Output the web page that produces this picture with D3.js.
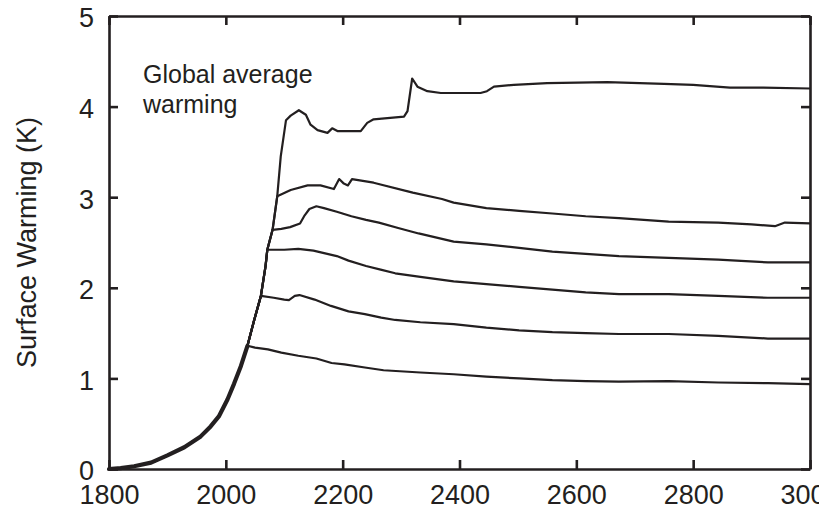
<!DOCTYPE html>
<html>
<head>
<meta charset="utf-8">
<script src="https://cdn.jsdelivr.net/npm/d3@7"></script>
<style>
  body { margin: 0; background: #fff; }
  svg { display: block; font-family: "Liberation Sans", Arial, sans-serif; }
</style>
</head>
<body>
<div id="chart"></div>
<script>
// shared historical ramp (all runs follow it until they branch off)
const rampYears = [1800, 1820, 1843, 1872, 1900, 1929, 1957, 1974, 1988, 2003, 2014, 2026, 2037, 2048, 2060, 2068, 2071, 2080, 2088, 2094, 2103];
const rampValues = [0, 0.01, 0.03, 0.07, 0.15, 0.24, 0.36, 0.47, 0.58, 0.77, 0.94, 1.14, 1.36, 1.63, 1.91, 2.24, 2.42, 2.64, 3.01, 3.45, 3.85];

// branches, from lowest to highest
const run1Years = [2037, 2050, 2072, 2095, 2124, 2155, 2181, 2203, 2238, 2270, 2333, 2390, 2446, 2502, 2559, 2616, 2673, 2758, 2843, 2928, 3000];
const run1Values = [1.36, 1.34, 1.32, 1.285, 1.25, 1.22, 1.17, 1.155, 1.12, 1.09, 1.065, 1.046, 1.02, 1.0, 0.98, 0.97, 0.965, 0.97, 0.955, 0.947, 0.936];

const run2Years = [2060, 2082, 2100, 2108, 2118, 2126, 2152, 2180, 2210, 2238, 2266, 2290, 2333, 2390, 2446, 2502, 2559, 2616, 2673, 2758, 2843, 2928, 3000];
const run2Values = [1.91, 1.89, 1.87, 1.865, 1.91, 1.92, 1.87, 1.8, 1.74, 1.71, 1.67, 1.645, 1.62, 1.6, 1.56, 1.53, 1.51, 1.5, 1.49, 1.49, 1.47, 1.44, 1.44];

const run3Years = [2071, 2100, 2124, 2150, 2170, 2190, 2210, 2240, 2265, 2290, 2333, 2390, 2446, 2502, 2559, 2616, 2673, 2758, 2843, 2928, 3000];
const run3Values = [2.42, 2.42, 2.43, 2.41, 2.38, 2.35, 2.3, 2.24, 2.2, 2.16, 2.12, 2.07, 2.04, 2.01, 1.98, 1.95, 1.93, 1.93, 1.91, 1.89, 1.89];

const run4Years = [2080, 2095, 2110, 2127, 2135, 2143, 2155, 2168, 2190, 2215, 2240, 2262, 2295, 2330, 2390, 2446, 2502, 2559, 2616, 2673, 2758, 2843, 2928, 3000];
const run4Values = [2.64, 2.65, 2.67, 2.71, 2.8, 2.87, 2.9, 2.88, 2.84, 2.79, 2.75, 2.72, 2.66, 2.6, 2.51, 2.48, 2.44, 2.4, 2.375, 2.35, 2.33, 2.31, 2.28, 2.28];

const run5Years = [2088, 2111, 2140, 2162, 2185, 2194, 2202, 2209, 2216, 2253, 2320, 2370, 2390, 2446, 2502, 2559, 2616, 2673, 2758, 2843, 2900, 2940, 2957, 3000];
const run5Values = [3.01, 3.08, 3.13, 3.13, 3.09, 3.2, 3.15, 3.13, 3.2, 3.16, 3.05, 2.98, 2.94, 2.88, 2.85, 2.82, 2.79, 2.77, 2.73, 2.72, 2.7, 2.68, 2.72, 2.71];

const run6Years = [2103, 2111, 2125, 2137, 2145, 2157, 2174, 2182, 2191, 2231, 2242, 2253, 2305, 2311, 2319, 2328, 2345, 2368, 2436, 2447, 2459, 2493, 2550, 2653, 2750, 2800, 2863, 2920, 3000];
const run6Values = [3.85, 3.9, 3.96, 3.91, 3.8, 3.74, 3.71, 3.76, 3.73, 3.73, 3.82, 3.86, 3.89, 3.95, 4.31, 4.22, 4.17, 4.15, 4.15, 4.17, 4.22, 4.24, 4.26, 4.27, 4.25, 4.24, 4.21, 4.21, 4.2];

const xTicks = [1800, 2000, 2200, 2400, 2600, 2800, 3000];
const yTicks = [0, 1, 2, 3, 4, 5];

const width = 819, height = 510;
const margin = { top: 16, right: 9, bottom: 41, left: 109 };
const ink = '#231f20';

const svg = d3.select('#chart').append('svg')
  .attr('width', width)
  .attr('height', height);

const x = d3.scaleLinear().domain([1800, 3000]).range([margin.left, width - margin.right]);
const y = d3.scaleLinear().domain([0, 5]).range([height - margin.bottom, margin.top]);

function zipPoints(years, values) {
  return years.map((yr, i) => [yr, values[i]]);
}

// each run = ramp up to its branch year + its own branch
const runs = [
  [run1Years, run1Values],
  [run2Years, run2Values],
  [run3Years, run3Values],
  [run4Years, run4Values],
  [run5Years, run5Values],
  [run6Years, run6Values],
].map(([ys, vs]) => {
  const start = ys[0];
  const head = zipPoints(rampYears, rampValues).filter((d) => d[0] < start);
  return head.concat(zipPoints(ys, vs));
});

const line = d3.line()
  .x((d) => x(d[0]))
  .y((d) => y(d[1]));

const plot = svg.append('g');

plot.selectAll('path.run')
  .data(runs)
  .join('path')
  .attr('class', 'run')
  .attr('d', line)
  .attr('fill', 'none')
  .attr('stroke', ink)
  .attr('stroke-width', 2.2)
  .attr('stroke-linejoin', 'round');

// overlapping part of the runs looks heavier
plot.append('path')
  .datum(zipPoints(rampYears, rampValues).filter((d) => d[0] <= 2040))
  .attr('d', line)
  .attr('fill', 'none')
  .attr('stroke', ink)
  .attr('stroke-width', 4.2)
  .attr('stroke-linecap', 'round')
  .attr('stroke-linejoin', 'round');

// axes: ticks point inward on all four sides
function styleAxis(g) {
  g.select('.domain').attr('stroke', ink).attr('stroke-width', 2.6);
  g.selectAll('.tick line').attr('stroke', ink).attr('stroke-width', 2.6);
  g.selectAll('.tick text')
    .attr('fill', ink)
    .style('font-size', '27px')
    .style('font-family', '"Liberation Sans", Arial, sans-serif');
}

svg.append('g')
  .attr('transform', `translate(0,${y(0)})`)
  .call(d3.axisBottom(x).tickValues(xTicks).tickFormat(d3.format('d')).tickSize(-9).tickSizeOuter(0).tickPadding(16))
  .call(styleAxis)
  .call((g) => g.selectAll('.tick text').attr('dy', '0.71em'));

svg.append('g')
  .attr('transform', `translate(${x(1800)},0)`)
  .call(d3.axisLeft(y).tickValues(yTicks).tickFormat(d3.format('d')).tickSize(-9).tickSizeOuter(0).tickPadding(15))
  .call(styleAxis)
  .call((g) => g.selectAll('.tick text').attr('dy', '0.4em'));

svg.append('g')
  .attr('transform', `translate(0,${y(5)})`)
  .call(d3.axisTop(x).tickValues(xTicks).tickFormat('').tickSize(-9).tickSizeOuter(0))
  .call(styleAxis);

svg.append('g')
  .attr('transform', `translate(${x(3000)},0)`)
  .call(d3.axisRight(y).tickValues(yTicks).tickFormat('').tickSize(-9).tickSizeOuter(0))
  .call(styleAxis);

// y axis title
svg.append('text')
  .attr('transform', `translate(36,${(107 + 378) / 2}) rotate(-90)`)
  .attr('text-anchor', 'middle')
  .attr('fill', ink)
  .style('font-size', '27px')
  .text('Surface Warming (K)');

// annotation
const note = svg.append('text')
  .attr('x', 143)
  .attr('y', 83)
  .attr('fill', ink)
  .style('font-size', '25px');
note.append('tspan').attr('x', 143).text('Global average');
note.append('tspan').attr('x', 143).attr('y', 113).text('warming');
</script>
</body>
</html>
